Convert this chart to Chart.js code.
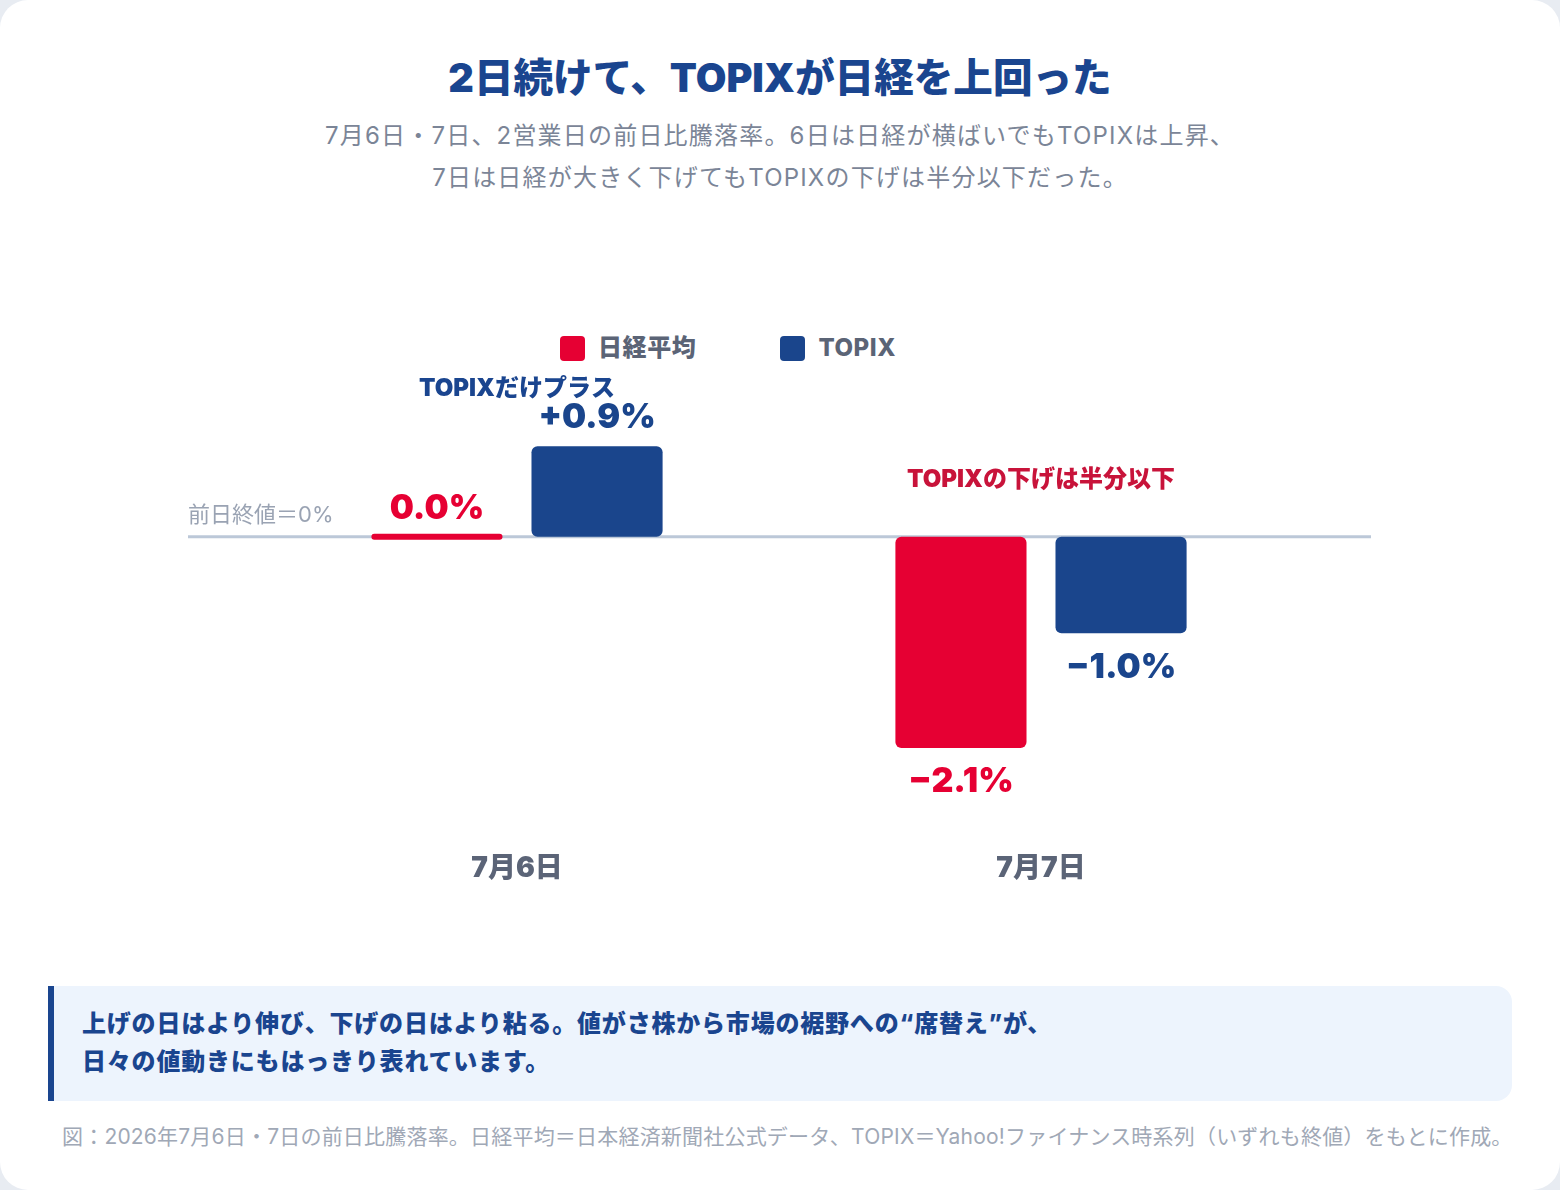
<!DOCTYPE html>
<html lang="ja">
<head>
<meta charset="utf-8">
<script src="https://cdn.jsdelivr.net/npm/chart.js@4.4.1/dist/chart.umd.min.js"></script>
<style>
  html, body { margin: 0; padding: 0; background: #e8ecf2; }
  body { width: 1560px; height: 1190px; position: relative; overflow: hidden;
         font-family: Inter, "Noto Sans CJK JP", "Noto Sans", sans-serif; }
  .card { position: absolute; left: 0; top: 0; width: 1560px; height: 1190px;
          background: #fff; border-radius: 28px; }
  h1 { position: absolute; left: 0; right: 0; top: 52px; margin: 0; text-align: center;
       font-size: 39.6px; font-weight: 900; color: #1a458f; line-height: 52px; }
  .sub { position: absolute; left: 0; right: 0; top: 115px; margin: 0; text-align: center;
         font-size: 24px; letter-spacing: 1.2px; line-height: 42px; color: #7b8597; }
  .legend { position: absolute; left: 560px; top: 334px; display: flex; align-items: center;
            font-size: 24px; letter-spacing: 0.6px; font-weight: 800; color: #5b6476; }
  .legend span.box { display: inline-block; width: 25px; height: 25px; border-radius: 4px; margin-right: 13px; }
  .legend .item { display: flex; align-items: center; margin-right: 84px; line-height: 28px; }
  #chart { position: absolute; left: 0; top: 300px; }
  .note { position: absolute; left: 48px; top: 986px; width: 1430px; height: 115px;
          background: #edf4fd; border-left: 6px solid #1a458f; border-radius: 0 16px 16px 0;
          padding: 0 0 0 28px; box-sizing: content-box; }
  .note p { margin: 0; padding-top: 19px; font-size: 24px; letter-spacing: 0.8px; font-weight: 800;
            line-height: 38px; color: #1a458f; }
  .source { position: absolute; left: 62px; top: 1123px; margin: 0; font-size: 21px; letter-spacing: 0.2px;
            line-height: 28px; color: #a0a8b6; white-space: nowrap; }
</style>
</head>
<body>
<div class="card">
  <h1>2日続けて、TOPIXが日経を上回った</h1>
  <p class="sub">7月6日・7日、2営業日の前日比騰落率。6日は日経が横ばいでもTOPIXは上昇、<br>7日は日経が大きく下げてもTOPIXの下げは半分以下だった。</p>
  <div class="legend" id="legend"></div>
  <canvas id="chart" width="1560" height="675"></canvas>
  <div class="note"><p>上げの日はより伸び、下げの日はより粘る。値がさ株から市場の裾野への“席替え”が、<br>日々の値動きにもはっきり表れています。</p></div>
  <p class="source">図：2026年7月6日・7日の前日比騰落率。日経平均＝日本経済新聞社公式データ、TOPIX＝Yahoo!ファイナンス時系列（いずれも終値）をもとに作成。</p>
</div>
<script>
const days = ['7月6日', '7月7日'];
const seriesNames = ['日経平均', 'TOPIX'];
const nikkei = [0.0, -2.1];
const topix = [0.9, -0.96];
const callouts = ['TOPIXだけプラス', 'TOPIXの下げは半分以下'];
const baseLabel = '前日終値＝0%';

const RED = '#e60033';
const BLUE = '#1a458c';
const FONT = 'Inter, "Noto Sans CJK JP", "Noto Sans", sans-serif';

// html legend
const legendEl = document.getElementById('legend');
[RED, BLUE].forEach((c, i) => {
  const item = document.createElement('div');
  item.className = 'item';
  item.innerHTML = '<span class="box" style="background:' + c + '"></span>' + seriesNames[i];
  legendEl.appendChild(item);
});

function fmt(v) {
  const s = Math.abs(v).toFixed(1) + '%';
  if (s === '0.0%') return s;
  return (v > 0 ? '+' : '−') + s;
}

const decor = {
  id: 'decor',
  beforeDatasetsDraw(chart) {
    const { ctx, chartArea, scales: { y } } = chart;
    const y0 = y.getPixelForValue(0);
    ctx.save();
    ctx.strokeStyle = '#bcc8d8';
    ctx.lineWidth = 3;
    ctx.beginPath();
    ctx.moveTo(chartArea.left - 67, y0);
    ctx.lineTo(chartArea.right + 68, y0);
    ctx.stroke();
    ctx.fillStyle = '#9aa3b3';
    ctx.font = '400 22px ' + FONT;
    ctx.textAlign = 'left';
    ctx.textBaseline = 'middle';
    ctx.fillText(baseLabel, chartArea.left - 67, y0 - 21);
    ctx.restore();
  },
  afterDatasetsDraw(chart) {
    const { ctx, scales: { x, y } } = chart;
    ctx.save();
    ctx.textAlign = 'center';
    ctx.textBaseline = 'middle';
    chart.data.datasets.forEach((ds, di) => {
      const meta = chart.getDatasetMeta(di);
      meta.data.forEach((bar, i) => {
        const v = ds.data[i];
        const py = y.getPixelForValue(v);
        ctx.fillStyle = ds.backgroundColor;
        ctx.font = '900 34px ' + FONT;
        ctx.fillText(fmt(v), bar.x, v >= 0 ? py - 28 : py + 34);
      });
    });
    callouts.forEach((t, i) => {
      const top = Math.max(0, nikkei[i], topix[i]);
      ctx.fillStyle = i === 0 ? '#1a458f' : '#c8133a';
      ctx.font = '900 24px ' + FONT;
      ctx.fillText(t, x.getPixelForValue(i), y.getPixelForValue(top) - 57);
    });
    ctx.restore();
  }
};

new Chart(document.getElementById('chart'), {
  type: 'bar',
  data: {
    labels: days,
    datasets: [
      { label: seriesNames[0], data: nikkei, backgroundColor: RED },
      { label: seriesNames[1], data: topix, backgroundColor: BLUE },
    ],
  },
  options: {
    responsive: false,
    animation: false,
    devicePixelRatio: 1,
    layout: { padding: { left: 255, right: 257, top: 116, bottom: 37 } },
    datasets: {
      bar: {
        categoryPercentage: 0.611,
        barPercentage: 0.819,
        borderRadius: 6,
        borderSkipped: false,
        minBarLength: 6,
      },
    },
    scales: {
      x: {
        grid: { display: false, drawTicks: false },
        border: { display: false },
        ticks: { padding: 53, color: '#5b6477', font: { family: FONT, size: 28, weight: '900' } },
      },
      y: { display: false, min: -2.6, max: 1.2 },
    },
    plugins: {
      legend: { display: false },
      tooltip: { enabled: false },
    },
  },
  plugins: [decor],
});
</script>
</body>
</html>
